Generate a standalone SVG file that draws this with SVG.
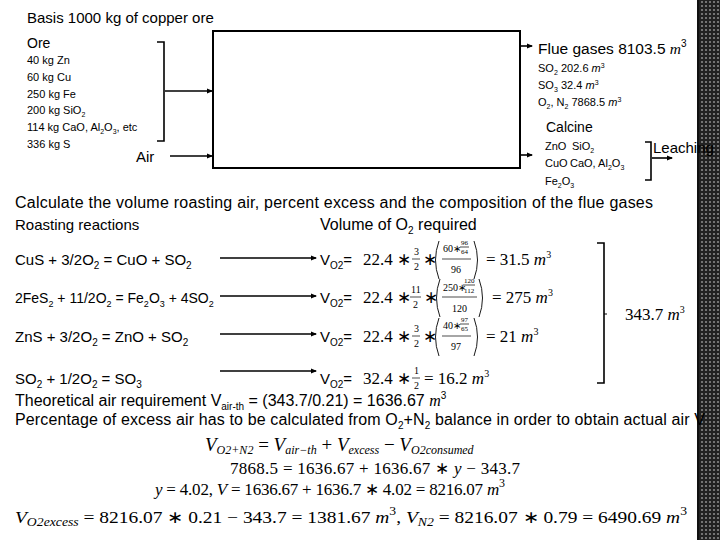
<svg xmlns="http://www.w3.org/2000/svg" width="720" height="540" viewBox="0 0 720 540">
<defs>
<marker id="ah" markerWidth="6" markerHeight="6" refX="5" refY="3" orient="auto" markerUnits="userSpaceOnUse"><path d="M0,0.5 L6,3 L0,5.5 z" fill="#000"/></marker>
<pattern id="dots" width="4" height="4" patternUnits="userSpaceOnUse"><rect width="4" height="4" fill="#222"/><circle cx="2" cy="2" r="1.1" fill="#888"/></pattern>
</defs>
<style>
text{font-family:"Liberation Sans",Arial,sans-serif;fill:#000}
.t{font-size:15px}
.s{font-size:11px}
.m{font-family:"Liberation Serif","Times New Roman",serif;font-size:17px}
.mi{font-family:"Liberation Serif","Times New Roman",serif;font-style:italic}
.f{font-family:"Liberation Serif","Times New Roman",serif;font-size:10px}
.ff{font-family:"Liberation Serif","Times New Roman",serif;font-size:7px}
.ln{stroke:#000;stroke-width:1.6;fill:none}
.p{stroke:#000;stroke-width:0.9;fill:none}
.bar{stroke:#000;stroke-width:0.7}
</style>
<rect width="720" height="540" fill="#fff"/>
<rect x="698" y="0" width="22" height="540" fill="url(#dots)"/>
<line x1="698" y1="0" x2="698" y2="540" stroke="#111" stroke-width="2"/>

<g id="roaster"><rect x="213" y="31" width="307" height="137" fill="#fff" stroke="#000" stroke-width="2"/></g>

<g id="connectors">
<path class="ln" d="M157,42 H164 V141 H157"/>
<line class="ln" x1="165" y1="91" x2="212" y2="91" marker-end="url(#ah)"/>
<line class="ln" x1="170" y1="156" x2="212" y2="156" marker-end="url(#ah)"/>
<line class="ln" x1="520" y1="46" x2="532" y2="46" marker-end="url(#ah)"/>
<line class="ln" x1="520" y1="155" x2="532" y2="155" marker-end="url(#ah)"/>
<path class="ln" d="M645,142 H651 V180 H645" stroke-width="1"/>
<line class="ln" x1="652" y1="158" x2="672" y2="158" marker-end="url(#ah)"/>
<line class="ln" x1="220" y1="258" x2="316" y2="258" marker-end="url(#ah)"/>
<line class="ln" x1="220" y1="296" x2="316" y2="296" marker-end="url(#ah)"/>
<line class="ln" x1="220" y1="334" x2="316" y2="334" marker-end="url(#ah)"/>
<line class="ln" x1="220" y1="371" x2="316" y2="371" marker-end="url(#ah)"/>
<path class="ln" d="M597,243 H604 V383 H597" stroke-width="1"/>
<line x1="604" y1="314" x2="607" y2="314" stroke="#000" stroke-width="1"/>
</g>

<g id="ore">
<text class="t" x="27" y="23">Basis 1000 kg  of copper ore</text>
<text x="27" y="48" font-size="14">Ore</text>
<text class="s" x="27" y="64">40 kg Zn</text>
<text class="s" x="27" y="81">60 kg Cu</text>
<text class="s" x="27" y="98">250 kg Fe</text>
<text class="s" x="27" y="114">200 kg SiO<tspan font-size="7" dy="3">2</tspan></text>
<text class="s" x="27" y="131">114 kg CaO, Al<tspan font-size="7" dy="3">2</tspan><tspan dy="-3">O</tspan><tspan font-size="7" dy="3">3</tspan><tspan dy="-3">, etc</tspan></text>
<text class="s" x="27" y="148">336 kg S</text>
<text class="t" x="136" y="162">Air</text>
</g>

<g id="flue">
<text x="538" y="54" font-size="15.5">Flue gases 8103.5 <tspan class="mi">m</tspan><tspan font-size="10" dy="-7">3</tspan></text>
<text class="s" x="538" y="72">SO<tspan font-size="7" dy="3">2</tspan></text><text class="s" x="561" y="72">202.6 <tspan font-style="italic">m</tspan><tspan font-size="7" dy="-4">3</tspan></text>
<text class="s" x="538" y="89">SO<tspan font-size="7" dy="3">3</tspan></text><text class="s" x="561" y="89">32.4 <tspan font-style="italic">m</tspan><tspan font-size="7" dy="-4">3</tspan></text>
<text class="s" x="538" y="106">O<tspan font-size="7" dy="3">2</tspan><tspan dy="-3">, N</tspan><tspan font-size="7" dy="3">2</tspan><tspan dy="-3"> 7868.5 </tspan><tspan font-style="italic">m</tspan><tspan font-size="7" dy="-4">3</tspan></text>
</g>

<g id="calcine">
<text x="546" y="132" font-size="14">Calcine</text>
<text class="s" x="545" y="150">ZnO</text><text class="s" x="572" y="150">SiO<tspan font-size="7" dy="3">2</tspan></text>
<text class="s" x="545" y="167">CuO</text><text class="s" x="570" y="167">CaO, Al<tspan font-size="7" dy="3">2</tspan><tspan dy="-3">O</tspan><tspan font-size="7" dy="3">3</tspan></text>
<text class="s" x="545" y="185">Fe<tspan font-size="7" dy="3">2</tspan><tspan dy="-3">O</tspan><tspan font-size="7" dy="3">3</tspan></text>
<text class="t" x="653" y="153">Leaching</text>
</g>

<g id="calc">
<text x="15" y="208" font-size="16" textLength="638">Calculate the volume roasting air, percent excess  and the composition of the flue gases</text>
<text class="t" x="15" y="230" font-size="16">Roasting reactions</text>
<text x="320" y="230" font-size="16">Volume of O<tspan font-size="10" dy="4">2</tspan><tspan dy="-4"> required</tspan></text>

<text class="t" x="15" y="265">CuS + 3/2O<tspan font-size="10" dy="4">2</tspan><tspan dy="-4"> = CuO + SO</tspan><tspan font-size="10" dy="4">2</tspan></text>
<text x="15" y="303" font-size="14">2FeS<tspan font-size="9" dy="4">2</tspan><tspan dy="-4"> + 11/2O</tspan><tspan font-size="9" dy="4">2</tspan><tspan dy="-4"> = Fe</tspan><tspan font-size="9" dy="4">2</tspan><tspan dy="-4">O</tspan><tspan font-size="9" dy="4">3</tspan><tspan dy="-4"> + 4SO</tspan><tspan font-size="9" dy="4">2</tspan></text>
<text class="t" x="15" y="342">ZnS + 3/2O<tspan font-size="10" dy="4">2</tspan><tspan dy="-4"> = ZnO + SO</tspan><tspan font-size="10" dy="4">2</tspan></text>
<text class="t" x="15" y="384">SO<tspan font-size="10" dy="4">2</tspan><tspan dy="-4"> + 1/2O</tspan><tspan font-size="10" dy="4">2</tspan><tspan dy="-4"> = SO</tspan><tspan font-size="10" dy="4">3</tspan></text>

<text class="t" x="320" y="265">V<tspan font-size="10" dy="4">O2</tspan><tspan dy="-4">= </tspan></text>
<text class="m" x="363" y="265">22.4 ∗</text>
<text class="f" x="414" y="255">3</text><line class="bar" x1="412" y1="259" x2="420" y2="259"/><text class="f" x="414" y="270">2</text>
<text class="m" x="423" y="265">∗</text>
<path class="p" d="M439,241 Q432,260 439,279"/>
<text class="f" x="443" y="252">60∗</text><text class="ff" x="461" y="245">96</text><line class="bar" x1="460" y1="247" x2="469" y2="247"/><text class="ff" x="461" y="254">64</text>
<line class="bar" x1="442" y1="259" x2="471" y2="259"/><text class="f" x="451" y="273">96</text>
<path class="p" d="M474,241 Q481,260 474,279"/>
<text class="m" x="486" y="265">= 31.5 <tspan font-style="italic">m</tspan><tspan font-size="10" dy="-7">3</tspan></text>

<text class="t" x="320" y="303">V<tspan font-size="10" dy="4">O2</tspan><tspan dy="-4">= </tspan></text>
<text class="m" x="363" y="303">22.4 ∗</text>
<text class="f" x="411" y="293">11</text><line class="bar" x1="410" y1="297" x2="421" y2="297"/><text class="f" x="413" y="308">2</text>
<text class="m" x="424" y="303">∗</text>
<path class="p" d="M440,279 Q433,298 440,317"/>
<text class="f" x="443" y="291">250∗</text><text class="ff" x="464" y="283">120</text><line class="bar" x1="463" y1="285" x2="475" y2="285"/><text class="ff" x="464" y="293">112</text>
<line class="bar" x1="442" y1="297" x2="477" y2="297"/><text class="f" x="452" y="312">120</text>
<path class="p" d="M479,279 Q486,298 479,317"/>
<text class="m" x="492" y="303">= 275 <tspan font-style="italic">m</tspan><tspan font-size="10" dy="-7">3</tspan></text>

<text class="t" x="320" y="342">V<tspan font-size="10" dy="4">O2</tspan><tspan dy="-4">= </tspan></text>
<text class="m" x="363" y="342">22.4 ∗</text>
<text class="f" x="414" y="332">3</text><line class="bar" x1="412" y1="336" x2="420" y2="336"/><text class="f" x="414" y="347">2</text>
<text class="m" x="423" y="342">∗</text>
<path class="p" d="M439,318 Q432,337 439,356"/>
<text class="f" x="443" y="329">40∗</text><text class="ff" x="461" y="322">97</text><line class="bar" x1="460" y1="324" x2="469" y2="324"/><text class="ff" x="461" y="331">65</text>
<line class="bar" x1="442" y1="336" x2="471" y2="336"/><text class="f" x="451" y="350">97</text>
<path class="p" d="M474,318 Q481,337 474,356"/>
<text class="m" x="486" y="342">= 21 <tspan font-style="italic">m</tspan><tspan font-size="10" dy="-7">3</tspan></text>

<text class="t" x="320" y="384">V<tspan font-size="10" dy="4">O2</tspan><tspan dy="-4">= </tspan></text>
<text class="m" x="363" y="384">32.4 ∗</text>
<text class="f" x="414" y="374">1</text><line class="bar" x1="412" y1="378" x2="420" y2="378"/><text class="f" x="414" y="389">2</text>
<text class="m" x="424" y="384">= 16.2 <tspan font-style="italic">m</tspan><tspan font-size="10" dy="-7">3</tspan></text>

<text class="m" x="625" y="320">343.7 <tspan font-style="italic">m</tspan><tspan font-size="10" dy="-7">3</tspan></text>
</g>

<g id="results">
<text x="15" y="406" font-size="16">Theoretical air requirement V<tspan font-size="10" dy="4">air-th</tspan><tspan dy="-4"> = (343.7/0.21) = 1636.67 </tspan><tspan class="mi">m</tspan><tspan font-size="10" dy="-7">3</tspan></text>
<text x="15" y="425" font-size="16" textLength="690">Percentage of excess air has to be calculated from O<tspan font-size="10" dy="4">2</tspan><tspan dy="-4">+N</tspan><tspan font-size="10" dy="4">2</tspan><tspan dy="-4"> balance in order to obtain actual air V</tspan></text>
<text class="mi" x="205" y="451" font-size="19">V<tspan font-size="12" dy="3">O2+N2</tspan><tspan dy="-3" font-style="normal"> = </tspan>V<tspan font-size="12" dy="3">air−th</tspan><tspan dy="-3" font-style="normal"> + </tspan>V<tspan font-size="12" dy="3">excess</tspan><tspan dy="-3" font-style="normal"> − </tspan>V<tspan font-size="12" dy="3">O2consumed</tspan></text>
<text class="m" x="230" y="474" font-size="19" textLength="290">7868.5 = 1636.67 + 1636.67 ∗ <tspan font-style="italic">y</tspan> − 343.7</text>
<text class="m" x="155" y="495" font-size="19" textLength="350"><tspan font-style="italic">y</tspan> = 4.02, <tspan font-style="italic">V</tspan> = 1636.67 + 1636.7 ∗ 4.02 = 8216.07 <tspan font-style="italic">m</tspan><tspan font-size="12" dy="-8">3</tspan></text>
<text class="m" x="15" y="523" font-size="19" textLength="672" lengthAdjust="spacingAndGlyphs"><tspan font-style="italic">V</tspan><tspan font-size="12" dy="3" font-style="italic">O2excess</tspan><tspan dy="-3"> = 8216.07 ∗ 0.21 − 343.7 = 1381.67 </tspan><tspan font-style="italic">m</tspan><tspan font-size="12" dy="-8">3</tspan><tspan dy="8">, </tspan><tspan font-style="italic">V</tspan><tspan font-size="12" dy="3" font-style="italic">N2</tspan><tspan dy="-3"> = 8216.07 ∗ 0.79 = 6490.69 </tspan><tspan font-style="italic">m</tspan><tspan font-size="12" dy="-8">3</tspan></text>
</g>
</svg>
